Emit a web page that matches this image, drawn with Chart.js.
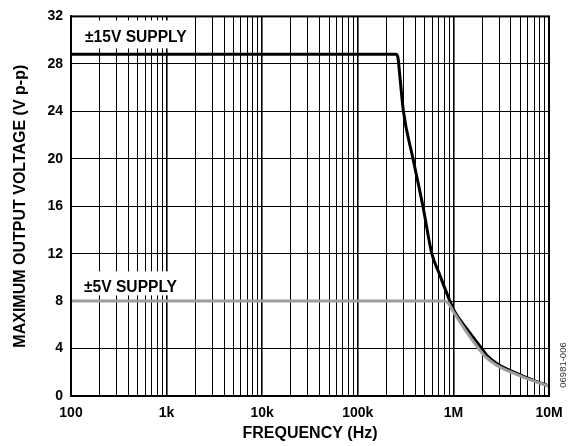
<!DOCTYPE html>
<html>
<head>
<meta charset="utf-8">
<script src="https://cdn.jsdelivr.net/npm/chart.js@4.4.1/dist/chart.umd.min.js"></script>
<style>
  html, body { margin: 0; padding: 0; background: #fff; }
  #wrap { width: 576px; height: 446px; }
</style>
</head>
<body>
<div id="wrap"><canvas id="c" width="576" height="446"></canvas></div>
<script>
// ---- data ----
const xDecades = [100, 1e3, 1e4, 1e5, 1e6, 1e7];
const xTickLabels = ['100', '1k', '10k', '100k', '1M', '10M'];
const yTickValues = [0, 4, 8, 12, 16, 20, 24, 28, 32];

const freq15 = [100, 250e3, 262e3, 275e3, 300e3, 378e3, 480e3, 595e3, 713e3, 920e3, 1.04e6, 1.4e6, 2e6, 2.23e6, 2.84e6, 4.6e6, 7e6, 1e7];
const vout15 = [28.8, 28.8, 28.6, 27.0, 24.0, 20.0, 16.0, 12.0, 10.3, 8.0, 7.06, 5.6, 3.95, 3.43, 2.74, 1.9, 1.3, 0.85];

const freq5 = [100, 780e3, 880e3, 1e6, 1.4e6, 1.9e6, 2.2e6, 2.8e6, 4.5e6, 7e6, 1e7];
const vout5 = [8.0, 8.0, 7.85, 7.1, 5.3, 3.85, 3.25, 2.62, 1.85, 1.25, 0.82];

const seriesLabels = ['\u00b15V SUPPLY', '\u00b115V SUPPLY'];
const xTitle = 'FREQUENCY (Hz)';
const yTitle = 'MAXIMUM OUTPUT VOLTAGE (V p-p)';
const figureId = '06981-006';

// grid positions: 1..9 x each decade
const xGridValues = [];
xDecades.slice(0, -1).forEach(d => { for (let m = 1; m < 10; m++) xGridValues.push(d * m); });
xGridValues.push(xDecades[xDecades.length - 1]);

const FONT = "'Liberation Sans', Arial, sans-serif";

const annotPlugin = {
  id: 'annot',
  beforeDatasetsDraw(chart) {
    const { ctx, chartArea: a } = chart;
    ctx.save();
    ctx.fillStyle = '#fff';
    ctx.fillRect(a.left, a.top + 4, 121, 28);
    ctx.fillRect(a.left, a.top + 255, 121, 24);
    ctx.fillStyle = '#000';
    ctx.font = 'bold 15.6px ' + FONT;
    ctx.textBaseline = 'alphabetic';
    ctx.textAlign = 'left';
    ctx.fillText(seriesLabels[1], a.left + 14, a.top + 25.5);
    ctx.fillText(seriesLabels[0], a.left + 13, a.top + 275.5);
    ctx.restore();
  },
  afterDraw(chart) {
    const { ctx, chartArea: a } = chart;
    ctx.save();
    ctx.strokeStyle = '#000';
    ctx.lineWidth = 2;
    ctx.strokeRect(a.left, a.top, a.right - a.left, a.bottom - a.top);
    ctx.translate(563, 365);
    ctx.rotate(-Math.PI / 2);
    ctx.fillStyle = '#333';
    ctx.font = '9.5px ' + FONT;
    ctx.textAlign = 'center';
    ctx.textBaseline = 'middle';
    ctx.fillText(figureId, 0, 0);
    ctx.restore();
  }
};

new Chart(document.getElementById('c'), {
  type: 'line',
  data: {
    datasets: [
      {
        label: seriesLabels[0],
        data: freq5.map((f, i) => ({ x: f, y: vout5[i] })),
        borderColor: '#9d9d9d',
        borderWidth: 3,
        pointRadius: 0,
        cubicInterpolationMode: 'monotone',
        order: 0
      },
      {
        label: seriesLabels[1],
        data: freq15.map((f, i) => ({ x: f, y: vout15[i] })),
        borderColor: '#000',
        borderWidth: 3,
        pointRadius: 0,
        cubicInterpolationMode: 'monotone',
        order: 1
      }
    ]
  },
  options: {
    responsive: false,
    animation: false,
    devicePixelRatio: 1,
    layout: { padding: { left: 0, right: 27, top: 14, bottom: 0 } },
    plugins: { legend: { display: false }, tooltip: { enabled: false } },
    scales: {
      x: {
        type: 'logarithmic',
        min: xDecades[0],
        max: xDecades[xDecades.length - 1],
        afterBuildTicks(scale) { scale.ticks = xGridValues.map(v => ({ value: v })); },
        afterFit(scale) { scale.height = 50; },
        ticks: {
          autoSkip: false,
          maxRotation: 0,
          minRotation: 0,
          padding: 9,
          color: '#000',
          font: { family: FONT, size: 14, weight: 'bold' },
          callback(v) {
            const i = xDecades.indexOf(v);
            return i >= 0 ? xTickLabels[i] : '';
          }
        },
        grid: {
          drawTicks: false,
          color: '#000',
          lineWidth: (c) => (c.tick && xDecades.includes(c.tick.value)) ? 1.6 : 1
        },
        border: { color: '#000', width: 2 },
        title: {
          display: true,
          text: xTitle,
          color: '#000',
          font: { family: FONT, size: 16, weight: 'bold' },
          padding: { top: 0, bottom: 3 }
        }
      },
      y: {
        type: 'linear',
        min: yTickValues[0],
        max: yTickValues[yTickValues.length - 1],
        afterBuildTicks(scale) { scale.ticks = yTickValues.map(v => ({ value: v })); },
        afterFit(scale) { scale.width = 71; },
        ticks: {
          padding: 8,
          color: '#000',
          font: { family: FONT, size: 14, weight: 'bold' }
        },
        grid: { drawTicks: false, color: '#000', lineWidth: 1 },
        border: { color: '#000', width: 2 },
        title: {
          display: true,
          text: yTitle,
          color: '#000',
          font: { family: FONT, size: 16, weight: 'bold' },
          padding: { top: 11, bottom: 0 }
        }
      }
    }
  },
  plugins: [annotPlugin]
});
</script>
</body>
</html>
